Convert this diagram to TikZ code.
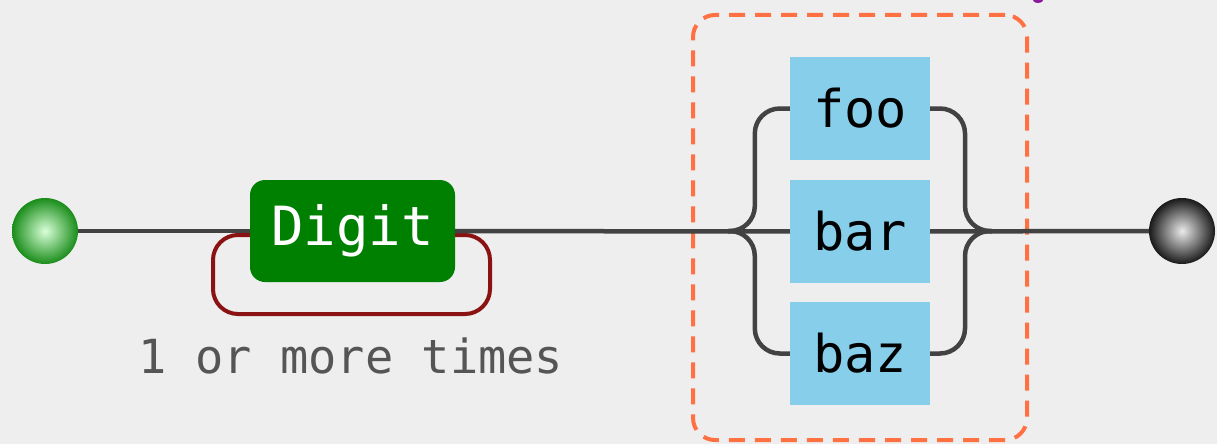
\documentclass[tikz,border=0pt]{standalone}
\usepackage{fontspec}
\setmonofont{DejaVu Sans Mono}
\usetikzlibrary{calc}
\definecolor{bg}{HTML}{EEEEEE}
\definecolor{wirecol}{HTML}{424242}
\definecolor{loopcol}{HTML}{8B1212}
\definecolor{ntfill}{HTML}{008000}
\definecolor{tfill}{HTML}{87CEEB}
\definecolor{grpcol}{HTML}{FF7043}
\definecolor{labcol}{HTML}{555555}
\definecolor{tagcol}{HTML}{8E1A9E}
\tikzset{
  wire/.style={draw=wirecol, line width=4.5pt},
  loopwire/.style={draw=loopcol, line width=4pt},
  ntbox/.style={fill=ntfill, text=white, rounded corners=15pt, minimum width=205pt,
    minimum height=102pt, inner sep=0pt, font=\ttfamily\fontsize{54}{60}\selectfont},
  tbox/.style={fill=tfill, text=black, minimum width=140pt, minimum height=103pt,
    inner sep=0pt, font=\ttfamily\fontsize{52}{58}\selectfont},
  grpbox/.style={draw=grpcol, line width=4pt, dash pattern=on 16pt off 10pt,
    rounded corners=22pt, minimum width=334pt, minimum height=425pt, inner sep=0pt},
  ball/.style={circle, minimum size=66pt, inner sep=0pt},
  looplabel/.style={text=labcol, inner sep=0pt, font=\ttfamily\fontsize{47}{52}\selectfont},
}
\begin{document}
\begin{tikzpicture}[x=1pt, y=-1pt]
  \clip (0,0) rectangle (1217,444);
  \fill[bg] (0,0) rectangle (1217,444);
  \useasboundingbox (0,0) rectangle (1217,444);

  % descender of a tag above the frame
  \fill[tagcol] (1038,-2) ellipse [x radius=6, y radius=5];

  % group frame around the choice
  \node[grpbox] (grp) at (860,227.5) {};

  % start and end balls
  \node[ball, shading=radial, inner color=green!15!white, outer color=ntfill!90!white] (start) at (45,231) {};
  \node[ball, shading=radial, inner color=white!92!black, outer color=black!90] (end) at (1182,231) {};

  % repeated nonterminal
  \node[ntbox] (digit) at (352.5,231) {Digit};

  % alternatives
  \node[tbox] (foo) at (860,108.5) {foo};
  \node[tbox] (bar) at (860,231.5) {bar};
  \node[tbox] (baz) at (860,353.5) {baz};

  \coordinate (split) at (728,231);
  \coordinate (merge) at (992,231);

  % one-or-more loop below the nonterminal
  \draw[loopwire, rounded corners=25pt]
    (digit.west |- 0,235) -- (213,235) -- (213,314) -- (490,314) -- (490,235) -- (digit.east |- 0,235);
  \node[looplabel, anchor=base] (times) at (351,373) {1 or more times};

  % main line
  \draw[wire] (start) -- (digit);
  \draw[wire] (digit) -- (bar);
  \draw[wire] (bar) -- (end);

  % branches into the alternatives
  \draw[wire, rounded corners=25pt] (split) -| ($(foo.west)+(-35,0)$) -- (foo.west);
  \draw[wire, rounded corners=25pt] (split) -| ($(baz.west)+(-35,0)$) -- (baz.west);
  \draw[wire, rounded corners=25pt] (foo.east) -| ($(merge)+(-27,0)$) -- (merge);
  \draw[wire, rounded corners=25pt] (baz.east) -| ($(merge)+(-27,0)$) -- (merge);
\end{tikzpicture}
\end{document}
